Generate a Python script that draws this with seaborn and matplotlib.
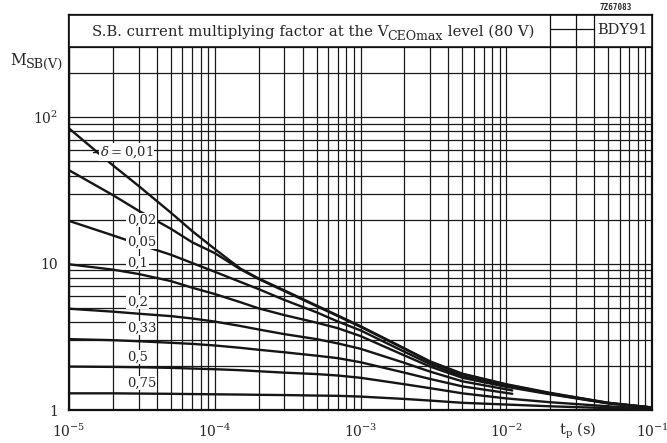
import numpy as np
import pandas as pd
import matplotlib
matplotlib.use("Agg")
import matplotlib.pyplot as plt
from matplotlib.ticker import LogLocator, NullFormatter, FixedLocator
from matplotlib.patches import Rectangle
import seaborn as sns

# ---- data ----
t_full = [1e-5, 2e-5, 3e-5, 5e-5, 7e-5, 1e-4, 1.5e-4, 2e-4, 3e-4, 5e-4, 7e-4,
          1e-3, 2e-3, 3e-3, 5e-3, 1e-2, 2e-2, 5e-2, 1e-1]
t_short = [1e-5, 2e-5, 3e-5, 5e-5, 7e-5, 1e-4, 1.5e-4, 2e-4, 3e-4, 5e-4, 7e-4,
           1e-3, 2e-3, 3e-3, 5e-3, 1.1e-2]

m_001 = [84, 47, 34, 22.3, 16.7, 12.6, 9.25, 7.92, 6.57, 5.17, 4.42, 3.74, 2.64, 2.15, 1.77, 1.5, 1.31, 1.12, 1.04]
m_002 = [43.5, 29.4, 23, 17.3, 14.0, 11.8, 9.15, 7.85, 6.5, 5.12, 4.38, 3.7, 2.62, 2.13, 1.76, 1.49, 1.3, 1.12, 1.04]
m_005 = [19.6, 15.6, 13.6, 11.5, 10.1, 8.8, 7.5, 6.7, 5.65, 4.65, 4.02, 3.5, 2.5, 2.06, 1.7, 1.47, 1.29, 1.11, 1.04]
m_01 = [9.9, 9.1, 8.5, 7.6, 6.85, 6.2, 5.45, 4.95, 4.45, 3.95, 3.62, 3.2, 2.36, 1.98, 1.66, 1.44, 1.28, 1.11, 1.04]
m_02 = [4.92, 4.7, 4.55, 4.38, 4.22, 4.02, 3.75, 3.55, 3.3, 3.05, 2.85, 2.62, 2.1, 1.83, 1.57, 1.36]
m_033 = [3.05, 3.0, 2.95, 2.88, 2.83, 2.76, 2.66, 2.58, 2.48, 2.35, 2.26, 2.12, 1.8, 1.63, 1.45, 1.29]
m_05 = [1.98, 1.97, 1.96, 1.94, 1.92, 1.9, 1.87, 1.84, 1.8, 1.76, 1.72, 1.66, 1.5, 1.41, 1.3, 1.2, 1.13, 1.06, 1.02]
m_075 = [1.3, 1.3, 1.295, 1.29, 1.285, 1.28, 1.275, 1.27, 1.265, 1.255, 1.25, 1.235, 1.19, 1.16, 1.12, 1.09, 1.06, 1.03, 1.01]

deltas = ["0,01", "0,02", "0,05", "0,1", "0,2", "0,33", "0,5", "0,75"]
series = [(t_full, m_001), (t_full, m_002), (t_full, m_005), (t_full, m_01),
          (t_short, m_02), (t_short, m_033), (t_full, m_05), (t_full, m_075)]
label_texts = [r"$\delta = $0,01", "0,02", "0,05", "0,1", "0,2", "0,33", "0,5", "0,75"]
x_ticks = [1e-5, 1e-4, 1e-3, 1e-2, 1e-1]
x_ticklabels = [r"10$^{-5}$", r"10$^{-4}$", r"10$^{-3}$", r"10$^{-2}$", r"10$^{-1}$"]
y_ticks = [1, 10, 100]
y_ticklabels = ["1", "10", r"10$^2$"]

rows = []
for d, (ts, ms) in zip(deltas, series):
    for tv, mv in zip(ts, ms):
        rows.append({"t": tv, "M": mv, "delta": d})
df = pd.DataFrame(rows)

# ---- style ----
sns.set_style("white")
SERIF = "DejaVu Serif"
plt.rcParams["font.family"] = [SERIF]
plt.rcParams["mathtext.fontset"] = "dejavuserif"

W, H = 667, 443
fig = plt.figure(figsize=(W/100, H/100), dpi=100)
ax = fig.add_axes([69/W, 1-410/H, (652-69)/W, (410-15)/H])
ax.set_xscale("log")
ax.set_yscale("log")
ax.set_xlim(1e-5, 1e-1)
ax.set_ylim(1, 500)

sns.lineplot(data=df, x="t", y="M", hue="delta", units="delta", estimator=None,
             sort=False, palette={d: "#151515" for d in deltas}, legend=False,
             linewidth=1.7, ax=ax, zorder=4)

# grid
ax.xaxis.set_major_locator(FixedLocator(x_ticks))
ax.yaxis.set_major_locator(FixedLocator(y_ticks))
ax.xaxis.set_minor_locator(LogLocator(base=10, subs=np.arange(2, 10), numticks=20))
ax.yaxis.set_minor_locator(LogLocator(base=10, subs=np.arange(2, 10), numticks=20))
ax.xaxis.set_minor_formatter(NullFormatter())
ax.yaxis.set_minor_formatter(NullFormatter())
ax.set_axisbelow(True)
ax.grid(which="both", color="#1a1a1a", linewidth=0.9)
ax.set_xticks(x_ticks)
ax.set_xticklabels(x_ticklabels, fontsize=10)
ax.set_yticks(y_ticks)
ax.set_yticklabels(y_ticklabels, fontsize=10)
ax.tick_params(which="both", length=0)
ax.tick_params(axis="x", pad=9)
ax.tick_params(axis="y", pad=8)
ax.set_xlabel("")
ax.set_ylabel("")
for s in ax.spines.values():
    s.set_color("#111111")
    s.set_linewidth(1.6)

# title band
ax.add_patch(Rectangle((1e-5, 300), 1e-1 - 1e-5, 200, facecolor="white",
                       edgecolor="#111111", linewidth=1.2, zorder=3))
for xv in [2e-2, 3e-2, 4e-2]:
    ax.plot([xv, xv], [300, 500], color="#111111", lw=0.9, zorder=3.5)
ax.plot([2e-2, 4e-2], [400, 400], color="#111111", lw=0.9, zorder=3.5)
ax.text(6.3e-2, 395, "BDY91", ha="center", va="center", fontsize=10.5,
        family=SERIF, zorder=5)

renderer = fig.canvas.get_renderer()


def rich_text(x_px, y_px, pieces, target_w, ha="left"):
    """pieces: (string, fontsize, dy_px) on a common baseline, scaled to target width."""
    widths = []
    for s, fs, dy in pieces:
        tmp = fig.text(0, 0, s, fontsize=fs, family=SERIF)
        widths.append(tmp.get_window_extent(renderer).width)
        tmp.remove()
    k = target_w / sum(widths)
    x0 = x_px - target_w / 2 if ha == "center" else x_px
    for (s, fs, dy), w in zip(pieces, widths):
        fig.text(x0 / W, 1 - (y_px + dy) / H, s, fontsize=fs * k, family=SERIF,
                 va="baseline", ha="left", zorder=6)
        x0 += w * k


rich_text(313, 36, [("S.B. current multiplying factor at the V", 11, 0),
                    ("CEOmax", 9.2, 3.5),
                    (" level (80 V)", 11, 0)], 442, ha="center")
rich_text(10, 65, [("M", 10.5, 0), ("SB(V)", 8.6, 3)], 53)

# curve labels
label_y = [152, 220, 242, 263, 302, 328, 357, 383]
label_x = [100, 127, 127, 127, 127, 127, 127, 127]
for txt, py, px in zip(label_texts, label_y, label_x):
    fig.text(px/W, 1-py/H, txt, ha="left", va="center", fontsize=9.5, zorder=6,
             family=SERIF, bbox=dict(facecolor="white", edgecolor="none", pad=0.6))
fig.add_artist(plt.Line2D([93/W, 99/W], [1-152/H, 1-152/H], color="#151515", lw=1.0))

# axis texts
fig.text(578/W, 1-431/H, r"t$_{\rm p}$ (s)", ha="center", va="center", fontsize=10.5,
         family=SERIF)
fig.text(616/W, 1-8/H, "7Z67083", ha="center", va="center", fontsize=5.5,
         family="DejaVu Sans Mono", weight="bold")

fig.savefig("out.png", dpi=100, facecolor="white")
